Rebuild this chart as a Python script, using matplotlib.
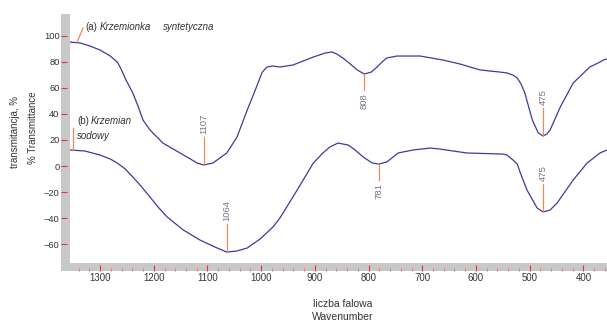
import matplotlib
matplotlib.use("Agg")
import matplotlib.pyplot as plt
import numpy as np
from matplotlib.patches import Rectangle
from matplotlib.ticker import MultipleLocator

plt.rcParams['font.family'] = ['Liberation Sans', 'DejaVu Sans']

# ---------------- data ----------------
wn_a = [1356, 1337, 1319, 1300, 1281, 1268, 1261, 1253, 1239, 1229, 1220, 1207, 1183, 1151, 1119, 1107,
        1090, 1064, 1045, 1026, 1011, 998, 989, 978, 965, 941, 903, 881, 868, 859, 848, 834,
        821, 808, 795, 784, 775, 766, 747, 704, 661, 630, 592, 555, 542, 531, 523, 516, 509,
        495, 484, 475, 468, 462, 443, 419, 388, 369, 363, 356]
tr_a = [95.0, 94.3, 92.0, 88.9, 84.3, 79.7, 74.5, 67.0, 55.9, 45.6, 35.2, 27.6, 17.6, 10.0, 2.3, 0.8,
        2.3, 10.0, 22.2, 42.9, 58.2, 72.0, 75.9, 76.6, 75.9, 77.4, 83.5, 86.6, 87.4, 85.8, 82.8, 78.2,
        73.6, 70.5, 72.0, 75.9, 79.7, 82.8, 84.3, 84.3, 81.2, 78.2, 73.6, 72.0, 71.3, 69.7, 67.4, 62.8, 55.9,
        35.2, 25.3, 23.0, 24.5, 27.6, 45.2, 63.6, 75.9, 79.7, 81.2, 82.0]

wn_b = [1356, 1328, 1300, 1281, 1268, 1253, 1239, 1224, 1207, 1192, 1175, 1145, 1114, 1086,
        1064, 1045, 1026, 1002, 978, 965, 933, 903, 885, 872, 857, 848, 838, 825, 810, 793,
        781, 766, 745, 717, 685, 667, 617, 550, 542, 531, 523, 518, 505, 486, 475, 462, 449,
        419, 393, 369, 356]
tr_b = [12.3, 11.5, 8.4, 5.4, 2.3, -2.3, -8.4, -15.3, -23.8, -31.4, -39.1, -49.0, -56.7, -62.1,
        -65.9, -65.1, -62.8, -55.9, -46.7, -39.8, -18.4, 2.3, 10.0, 14.6, 17.6, 16.9, 16.1, 12.3, 6.9, 2.3,
        1.5, 3.1, 10.0, 12.3, 13.8, 13.0, 10.0, 9.2, 8.4, 4.6, 1.5, -4.6, -18.4, -32.2, -35.2, -33.7, -28.4,
        -10.7, 2.3, 10.0, 12.3]

# peak labels
peaks_a = [1107, 808, 475]
dirs_a = ['up', 'down', 'up']
peaks_b = [1064, 781, 475]
dirs_b = ['up', 'down', 'up']

yticks = [100, 80, 60, 40, 20, 0, -20, -40, -60]
xticks = [1300, 1200, 1100, 1000, 900, 800, 700, 600, 500, 400]

# ---------------- figure ----------------
W, H = 607, 321
fig = plt.figure(figsize=(W / 100, H / 100), dpi=100)


def fx(px):
    return px / W


def fy(py):
    return 1 - py / H


ax = fig.add_axes([fx(70), fy(263), fx(607) - fx(70), fy(14) - fy(263)])
ax.set_facecolor('none')

# gray axis bars
fig.add_artist(Rectangle((fx(61), fy(271)), 9 / W, 257 / H, transform=fig.transFigure,
                         facecolor='#c8c8c8', edgecolor='none', zorder=-1))
fig.add_artist(Rectangle((fx(69), fy(271)), (607 - 69) / W, 8 / H, transform=fig.transFigure,
                         facecolor='#c8c8c8', edgecolor='none', zorder=-1))

line_col = '#3b3b9e'
ax.plot(wn_a, tr_a, color=line_col, lw=0.9)
ax.plot(wn_b, tr_b, color=line_col, lw=0.9)

ax.set_xlim(1356, 356)
ax.set_ylim(-74.3, 116.5)

for s in ax.spines.values():
    s.set_visible(False)
ax.spines['left'].set_position(('outward', 3 * 0.72))
ax.spines['bottom'].set_position(('outward', 8 * 0.72))

ax.set_yticks(yticks)
ax.set_xticks(xticks)
ax.xaxis.set_minor_locator(MultipleLocator(20))
ax.tick_params(axis='y', direction='out', length=6 * 0.72, width=0.8, color='#e03535',
               pad=1, labelsize=6.7, labelcolor='#333333')
ax.tick_params(axis='x', which='major', direction='in', length=6.5 * 0.72, width=0.8,
               color='#e03535', pad=1.5, labelsize=6.9, labelcolor='#333333')
ax.tick_params(axis='x', which='minor', direction='in', length=3 * 0.72, width=0.8,
               color='#e87a7a')

# peak annotations
orange = '#ee8855'
lab_col = '#7d6d85'
px_per_unit = 249 / (116.5 + 74.3)  # pixels per transmittance unit


def annotate(wns, dirs, wn_s, tr_s):
    ws = np.array(wn_s)[::-1]
    ts = np.array(tr_s)[::-1]
    for w, d in zip(wns, dirs):
        v = float(np.interp(w, ws, ts))
        sgn = 1 if d == 'up' else -1
        length = 28 if d == 'up' else 16
        v_end = v + sgn * length / px_per_unit
        ax.plot([w, w], [v, v_end], color=orange, lw=0.9)
        ax.text(w, v_end + sgn * 3 / px_per_unit, str(w), rotation=90, ha='center',
                va='bottom' if d == 'up' else 'top', fontsize=6.8, color=lab_col)


annotate(peaks_a, dirs_a, wn_a, tr_a)
annotate(peaks_b, dirs_b, wn_b, tr_b)

# series labels
txt_col = '#333333'
ax.plot([1342.8, 1331.7], [95.0, 105.7], color=orange, lw=0.9, clip_on=False)
ax.text(1328, 106.5, '(a)', fontsize=7, color=txt_col, va='center', ha='left')
ax.text(1300.4, 106.5, 'Krzemionka', fontsize=7, style='italic', color=txt_col, va='center', ha='left')
ax.text(1182, 106.5, 'syntetyczna', fontsize=7, style='italic', color=txt_col, va='center', ha='left')

ax.plot([1350.8, 1350.8], [12.3, 29.1], color=orange, lw=0.9, clip_on=False)
ax.text(1343, 34.5, '(b)', fontsize=7, color=txt_col, va='center', ha='left')
ax.text(1317, 34.5, 'Krzemian', fontsize=7, style='italic', color=txt_col, va='center', ha='left')
ax.text(1343, 23.0, 'sodowy', fontsize=7, style='italic', color=txt_col, va='center', ha='left')

# axis titles
fig.text(fx(15), fy(132), 'transmitancja, %', rotation=90, ha='center', va='center',
         fontsize=7, color=txt_col)
fig.text(fx(33), fy(128), '% Transmittance', rotation=90, ha='center', va='center',
         fontsize=7, color=txt_col)
fig.text(fx(343), fy(304), 'liczba falowa', ha='center', va='center', fontsize=7.5, color=txt_col)
fig.text(fx(343), fy(317), 'Wavenumber', ha='center', va='center', fontsize=7.5, color=txt_col)

fig.savefig('out.png', dpi=100)
